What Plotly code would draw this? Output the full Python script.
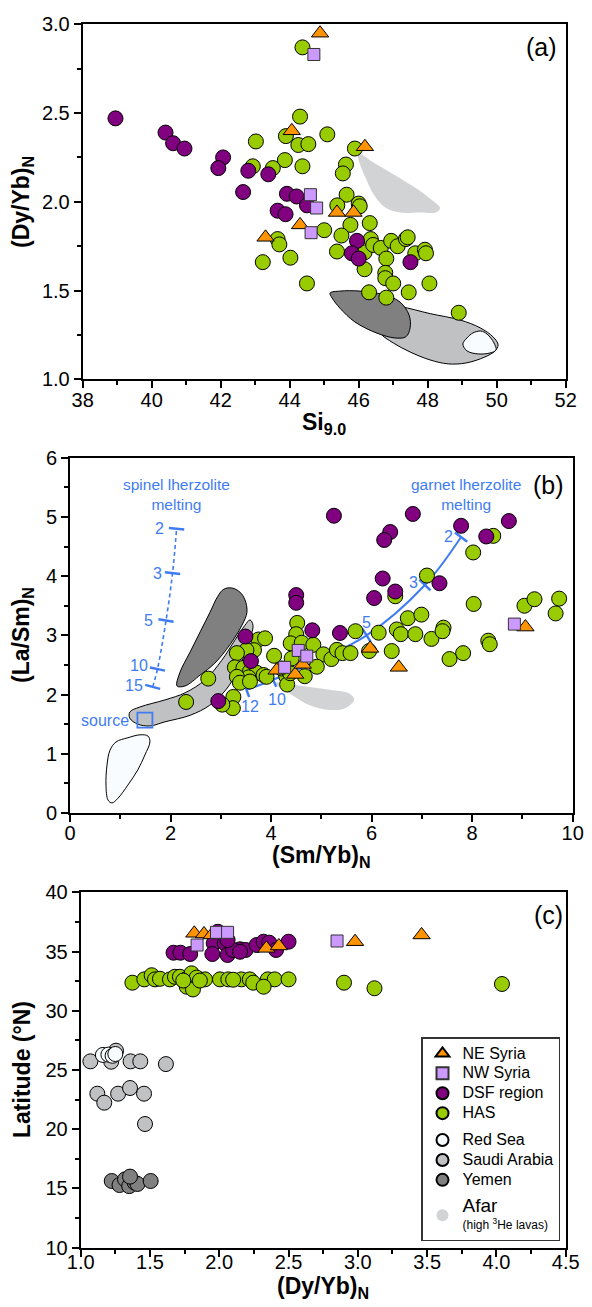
import plotly.graph_objects as go
import numpy as np

# ======================= DATA =======================
# ---- Panel (a): Si9.0 vs (Dy/Yb)N ----
A_NE_SI = [44.88, 44.06, 46.18, 44.30, 43.30, 45.37, 45.85]
A_NE_DY = [2.95, 2.40, 2.31, 1.87, 1.80, 1.94, 1.94]
A_NW_SI = [44.70, 44.60, 44.78, 44.62]
A_NW_DY = [2.83, 2.04, 1.965, 1.826]
A_DSF_SI = [38.95, 40.40, 40.62, 40.95, 42.07, 41.93, 42.80, 43.38, 42.65, 43.92,
            44.20, 44.50, 43.65, 43.88, 45.95, 45.80, 46.00, 47.50]
A_DSF_DY = [2.47, 2.39, 2.33, 2.30, 2.25, 2.19, 2.175, 2.155, 2.055, 2.045,
            2.03, 1.98, 1.95, 1.93, 1.78, 1.71, 1.68, 1.66]
A_HAS_SI = [44.37, 44.30, 43.89, 43.02, 44.25, 44.54, 45.09, 45.89, 45.63, 45.54,
            43.86, 42.93, 43.51, 44.37, 45.65, 45.38, 46.00, 46.03, 46.32, 45.76,
            45.00, 45.50, 43.65, 43.70, 44.02, 43.22, 45.37, 46.17, 46.35, 46.42,
            46.64, 46.94, 47.13, 47.37, 47.42, 47.64, 47.92, 47.95, 46.80, 46.17,
            46.77, 46.77, 47.00, 48.05, 44.50, 46.30, 46.80, 47.45, 48.90]
A_HAS_DY = [2.87, 2.48, 2.37, 2.34, 2.32, 2.325, 2.38, 2.30, 2.21, 2.16,
            2.235, 2.20, 2.19, 2.20, 2.04, 1.98, 1.99, 1.975, 1.88, 1.87,
            1.84, 1.81, 1.79, 1.76, 1.685, 1.66, 1.72, 1.715, 1.79, 1.757,
            1.74, 1.78, 1.75, 1.79, 1.80, 1.71, 1.73, 1.71, 1.68, 1.62,
            1.60, 1.57, 1.54, 1.54, 1.54, 1.49, 1.46, 1.49, 1.375]
# field outlines, panel (a)
A_AFAR_SI = [45.98, 46.39, 47.05, 47.63, 48.12, 48.36, 48.24, 47.78, 47.20, 46.76, 46.44, 46.21, 46.04]
A_AFAR_DY = [2.275, 2.225, 2.15, 2.08, 2.01, 1.965, 1.94, 1.94, 1.94, 1.97, 2.04, 2.13, 2.21]
A_SAUDI_SI = [46.62, 47.20, 48.07, 48.94, 49.52, 49.90, 50.04, 49.95, 49.66, 49.11, 48.59,
              48.07, 47.49, 47.00, 46.62, 46.48, 46.50]
A_SAUDI_DY = [1.42, 1.41, 1.37, 1.334, 1.29, 1.238, 1.194, 1.16, 1.126, 1.092, 1.087,
              1.109, 1.154, 1.205, 1.26, 1.323, 1.39]
A_YEMEN_SI = [45.17, 45.46, 46.04, 46.76, 47.20, 47.46, 47.49, 47.37, 47.05, 46.53, 45.89, 45.46, 45.23]
A_YEMEN_DY = [1.486, 1.497, 1.497, 1.475, 1.435, 1.362, 1.29, 1.24, 1.233, 1.26, 1.323, 1.40, 1.458]
A_REDSEA_SI = [49.02, 49.14, 49.31, 49.54, 49.72, 49.92, 49.98, 49.80, 49.46, 49.14]
A_REDSEA_DY = [1.199, 1.233, 1.261, 1.272, 1.255, 1.205, 1.165, 1.148, 1.143, 1.16]

# ---- Panel (b): (Sm/Yb)N vs (La/Sm)N ----
B_NE_SMYB = [4.11, 4.48, 4.63, 5.97, 6.54, 9.06]
B_NE_LASM = [2.41, 2.34, 2.51, 2.78, 2.46, 3.14]
B_NW_SMYB = [4.54, 4.71, 4.27, 8.84]
B_NW_LASM = [2.745, 2.65, 2.46, 3.19]
B_DSF_SMYB = [5.25, 6.82, 6.37, 6.25, 7.78, 8.73, 8.28, 6.22, 6.47, 6.05, 7.35, 5.37,
              4.50, 4.50, 4.82, 3.49, 3.60, 2.95]
B_DSF_LASM = [5.02, 5.05, 4.745, 4.61, 4.85, 4.93, 4.67, 3.96, 3.74, 3.63, 3.88, 3.04,
              3.68, 3.55, 3.085, 2.98, 2.565, 1.89]
B_HAS_SMYB = [8.42, 8.02, 7.10, 6.47, 8.03, 9.04, 9.24, 9.73, 9.66, 6.72, 6.99, 5.68,
              6.14, 6.50, 6.58, 6.87, 7.19, 7.43, 7.41, 8.32, 8.35, 7.82, 7.55,
              4.52, 4.50, 3.75, 3.88, 4.39, 4.61, 4.84, 3.66, 4.06, 4.41, 5.04, 5.20,
              5.31, 5.42, 5.58, 5.95, 6.40, 3.51, 3.32, 3.28, 3.45, 3.58, 3.71, 3.55,
              3.32, 3.38, 3.58, 3.85, 3.91, 4.30, 4.32, 4.67, 4.21, 4.91, 2.75, 3.25,
              3.24, 3.03, 2.31, 4.38]
B_HAS_LASM = [4.68, 4.40, 4.01, 3.66, 3.53, 3.50, 3.61, 3.62, 3.37, 3.29, 3.35, 3.07,
              3.045, 3.10, 3.02, 3.02, 2.94, 3.13, 3.07, 2.91, 2.85, 2.70, 2.60,
              3.21, 3.02, 2.93, 2.95, 2.865, 2.875, 2.84, 2.75, 2.655, 2.61, 2.68, 2.60,
              2.755, 2.70, 2.70, 2.735, 2.735, 2.75, 2.70, 2.46, 2.45, 2.39, 2.37, 2.29,
              2.30, 2.20, 2.22, 2.33, 2.30, 2.31, 2.17, 2.31, 2.44, 2.47, 2.27, 1.96,
              1.77, 1.83, 1.875, 2.36]
# field outlines, panel (b)
B_AFAR_SMYB = [4.10, 4.58, 5.17, 5.57, 5.65, 5.47, 5.17, 4.77, 4.42, 4.18]
B_AFAR_LASM = [2.20, 2.15, 2.08, 2.01, 1.91, 1.77, 1.74, 1.82, 1.99, 2.12]
B_SAUDI_SMYB = [1.19, 1.39, 1.89, 2.29, 2.69, 3.02, 3.28, 3.48, 3.58, 3.64, 3.54, 3.34,
                3.10, 2.78, 2.39, 1.89, 1.59, 1.35, 1.19]
B_SAUDI_LASM = [1.705, 1.79, 1.91, 2.03, 2.25, 2.58, 2.92, 3.17, 3.26, 3.17, 2.84, 2.41,
                2.08, 1.82, 1.65, 1.54, 1.47, 1.50, 1.60]
B_YEMEN_SMYB = [2.13, 2.19, 2.39, 2.59, 2.785, 2.94, 3.06, 3.22, 3.38, 3.48, 3.52, 3.42,
                3.18, 2.88, 2.59, 2.29]
B_YEMEN_LASM = [2.145, 2.38, 2.72, 3.06, 3.39, 3.66, 3.78, 3.80, 3.73, 3.60, 3.39, 3.17,
                2.84, 2.53, 2.33, 2.145]
B_REDSEA_SMYB = [1.55, 1.59, 1.49, 1.35, 1.15, 0.955, 0.835, 0.756, 0.716, 0.736, 0.796, 0.915, 1.15, 1.39]
B_REDSEA_LASM = [1.30, 1.20, 0.98, 0.73, 0.47, 0.25, 0.17, 0.22, 0.47, 0.81, 1.06, 1.20, 1.27, 1.32]
# melting models (percent melting labels)
SPINEL_F = ["15", "10", "5", "3", "2"]
SPINEL_SMYB = [1.645, 1.74, 1.91, 2.04, 2.12]
SPINEL_LASM = [2.13, 2.43, 3.25, 4.05, 4.80]
GARNET_F = ["12", "10", "5", "3", "2"]
GARNET_SMYB = [3.51, 4.04, 5.90, 7.06, 7.78]
GARNET_LASM = [2.08, 2.25, 3.00, 3.85, 4.66]
SOURCE_SMYB = [1.49]
SOURCE_LASM = [1.57]

# ---- Panel (c): (Dy/Yb)N vs latitude ----
C_NE_DY = [1.82, 1.89, 1.945, 2.34, 2.43, 2.98, 3.46]
C_NE_LAT = [36.54, 36.48, 36.40, 35.27, 35.47, 35.83, 36.40]
C_NW_DY = [1.84, 1.98, 2.06, 2.85]
C_NW_LAT = [35.55, 36.62, 36.62, 35.89]
C_DSF_DY = [1.67, 1.72, 1.79, 1.99, 1.96, 2.04, 1.95, 2.06, 2.15, 2.19, 2.27, 2.32,
            2.36, 2.41, 2.50, 2.10, 2.06, 2.15]
C_DSF_LAT = [34.90, 34.90, 34.79, 36.67, 35.70, 35.70, 34.79, 34.71, 35.19, 35.13, 35.55, 35.83,
             35.75, 35.13, 35.83, 35.13, 35.97, 34.98]
C_HAS_DY = [1.373, 1.459, 1.512, 1.536, 1.572, 1.644, 1.68, 1.716, 1.76, 1.80, 1.837, 1.897,
            2.005, 2.065, 2.16, 2.22, 2.245, 2.35, 2.40, 2.50, 1.765, 1.81, 2.32, 2.90,
            3.12, 4.04, 1.74, 1.86, 2.10]
C_HAS_LAT = [32.37, 32.65, 33.00, 32.65, 32.70, 32.65, 32.87, 32.87, 32.65, 33.16, 32.80, 32.65,
             32.65, 32.65, 32.65, 32.65, 32.37, 32.65, 32.65, 32.65, 32.03, 31.80, 32.03, 32.37,
             31.90, 32.26, 32.55, 32.55, 32.62]
C_SAUDI_DY = [1.255, 1.07, 1.22, 1.36, 1.43, 1.615, 1.12, 1.17, 1.27, 1.356, 1.457, 1.464]
C_SAUDI_LAT = [26.63, 25.73, 25.70, 25.73, 25.73, 25.50, 23.00, 22.24, 23.00, 23.48, 23.00, 20.44]
C_REDSEA_DY = [1.16, 1.20, 1.23, 1.25]
C_REDSEA_LAT = [26.27, 26.30, 26.20, 26.35]
C_YEMEN_DY = [1.224, 1.28, 1.32, 1.37, 1.35, 1.39, 1.41, 1.505, 1.356]
C_YEMEN_LAT = [15.63, 15.29, 15.77, 15.57, 15.20, 15.49, 15.38, 15.63, 16.00]

# ======================= STYLE / LAYOUT =======================
W, H = 592, 1307          # browser window
OFF = 8                   # default page margin around the plot div
FW, FH = W - OFF, H - OFF  # figure size
FONT = "Liberation Sans, Arial, sans-serif"
ORANGE = "#FF9300"
LAV = "#CC99FF"
PURPLE = "#800080"
GREEN = "#99CC00"
SAUDI = "#C0C1C3"
YEMEN = "#808080"
REDSEA = "#F8FCFE"
AFAR = "#D2D3D5"
BLUE = "#3F7CF2"

# panel boxes in window pixels (left, right, top, bottom)
BOX = {
    "a": (82.7, 565.7, 24.3, 379.3),
    "b": (70.0, 572.7, 457.7, 813.0),
    "c": (80.7, 565.7, 892.3, 1247.7),
}
RANGES = {
    "a": ([38, 52], [1, 3]),
    "b": ([0, 10], [0, 6]),
    "c": ([1, 4.5], [10, 40]),
}


def px2paper(px, py):
    return (px - OFF) / FW, 1 - (py - OFF) / FH


def dom(p):
    l, r, t, b = BOX[p]
    x0, y0 = px2paper(l, b)
    x1, y1 = px2paper(r, t)
    return [x0, x1], [y0, y1]


fig = go.Figure()

AX = {"a": ("x", "y"), "b": ("x2", "y2"), "c": ("x3", "y3")}


def lg(t):
    return "<span style='font-size:16px'>%s</span>" % t


def pts(p, x, y, name, symbol, color, size, lc="black", lw=1, legend=False, group=None, rank=None):
    xa, ya = AX[p]
    fig.add_trace(go.Scatter(
        x=x, y=y, mode="markers", name=lg(name) if legend else name, xaxis=xa, yaxis=ya,
        marker=dict(symbol=symbol, color=color, size=size, line=dict(color=lc, width=lw)),
        showlegend=legend, legendgroup=group, legendrank=rank, hoverinfo="skip"))


def field(p, x, y, fill, outline=True, name=None):
    xa, ya = AX[p]
    fig.add_trace(go.Scatter(
        x=list(x) + [x[0]], y=list(y) + [y[0]], mode="lines", fill="toself", fillcolor=fill,
        line=dict(color="black" if outline else fill, width=1 if outline else 0, shape="spline", smoothing=1.0),
        xaxis=xa, yaxis=ya, showlegend=False, hoverinfo="skip", name=name))


# ---- panel (a)
field("a", A_AFAR_SI, A_AFAR_DY, AFAR, outline=False)
field("a", A_SAUDI_SI, A_SAUDI_DY, SAUDI)
field("a", A_YEMEN_SI, A_YEMEN_DY, YEMEN)
field("a", A_REDSEA_SI, A_REDSEA_DY, REDSEA)
pts("a", A_HAS_SI, A_HAS_DY, "HAS", "circle", GREEN, 15)
pts("a", A_DSF_SI, A_DSF_DY, "DSF region", "circle", PURPLE, 15)
pts("a", A_NE_SI, A_NE_DY, "NE Syria", "triangle-up", ORANGE, 15)
pts("a", A_NW_SI, A_NW_DY, "NW Syria", "square", LAV, 12, lc="#333")

# ---- panel (b)
field("b", B_AFAR_SMYB, B_AFAR_LASM, AFAR, outline=False)
field("b", B_REDSEA_SMYB, B_REDSEA_LASM, REDSEA)
field("b", B_SAUDI_SMYB, B_SAUDI_LASM, SAUDI)
field("b", B_YEMEN_SMYB, B_YEMEN_LASM, YEMEN)

# melting curves
fig.add_trace(go.Scatter(x=SPINEL_SMYB, y=SPINEL_LASM, mode="lines", xaxis="x2", yaxis="y2",
                         line=dict(color=BLUE, width=1.6, dash="4px,3px", shape="spline"),
                         showlegend=False, hoverinfo="skip"))
fig.add_trace(go.Scatter(x=GARNET_SMYB, y=GARNET_LASM, mode="lines", xaxis="x2", yaxis="y2",
                         line=dict(color=BLUE, width=2, shape="spline"),
                         showlegend=False, hoverinfo="skip"))


def tick_angles(p, xs, ys):
    (x0, x1), (y0, y1) = RANGES[p]
    l, r, t, b = BOX[p]
    sx = (r - l) / (x1 - x0)
    sy = (b - t) / (y1 - y0)
    X = np.array(xs) * sx
    Y = np.array(ys) * sy
    dX = np.gradient(X)
    dY = np.gradient(Y)
    alpha = np.degrees(np.arctan2(dY, dX))
    return list(-alpha)


for xs, ys in ((SPINEL_SMYB, SPINEL_LASM), (GARNET_SMYB, GARNET_LASM)):
    fig.add_trace(go.Scatter(x=xs, y=ys, mode="markers", xaxis="x2", yaxis="y2",
                             marker=dict(symbol="line-ns", size=11, angle=tick_angles("b", xs, ys),
                                         line=dict(color=BLUE, width=2.5)),
                             showlegend=False, hoverinfo="skip"))
pts("b", SOURCE_SMYB, SOURCE_LASM, "source", "square-open", BLUE, 15, lc=BLUE, lw=1.8)

pts("b", B_HAS_SMYB, B_HAS_LASM, "HAS", "circle", GREEN, 15)
pts("b", B_DSF_SMYB, B_DSF_LASM, "DSF region", "circle", PURPLE, 15)
pts("b", B_NE_SMYB, B_NE_LASM, "NE Syria", "triangle-up", ORANGE, 15)
pts("b", B_NW_SMYB, B_NW_LASM, "NW Syria", "square", LAV, 12, lc="#333")

# ---- panel (c)
pts("c", C_SAUDI_DY, C_SAUDI_LAT, "Saudi Arabia", "circle", SAUDI, 15, legend=True, group="g2", rank=6)
pts("c", C_REDSEA_DY, C_REDSEA_LAT, "Red Sea", "circle", REDSEA, 15, legend=True, group="g2", rank=5)
pts("c", C_YEMEN_DY, C_YEMEN_LAT, "Yemen", "circle", YEMEN, 15, legend=True, group="g2", rank=7)
pts("c", C_HAS_DY, C_HAS_LAT, "HAS", "circle", GREEN, 15, legend=True, group="g1", rank=4)
pts("c", C_DSF_DY, C_DSF_LAT, "DSF region", "circle", PURPLE, 15, legend=True, group="g1", rank=3)
pts("c", C_NE_DY, C_NE_LAT, "NE Syria", "triangle-up", ORANGE, 15, legend=True, group="g1", rank=1)
pts("c", C_NW_DY, C_NW_LAT, "NW Syria", "square", LAV, 12, lc="#333", legend=True, group="g1", rank=2)
# legend-only entry for the Afar field
fig.add_trace(go.Scatter(x=[None], y=[None], mode="markers", xaxis="x3", yaxis="y3",
                         name="<span style='font-size:19px'>Afar</span><br><span style='font-size:12px'>(high <sup>3</sup>He lavas)</span>",
                         marker=dict(symbol="circle", color=AFAR, size=14, line=dict(width=0)),
                         showlegend=True, legendgroup="g3", legendrank=8))


def axis(p, dtick, minor, fmt=None, side="x", standoff=0):
    (xr, yr) = RANGES[p]
    xd, yd = dom(p)
    d = dict(
        range=xr if side == "x" else yr,
        domain=xd if side == "x" else yd,
        automargin=False,
        showline=True, linecolor="black", linewidth=2, mirror=True,
        ticks="outside", ticklen=7, tickwidth=2, tickcolor="black",
        dtick=dtick, tick0=0, showgrid=False, zeroline=False,
        tickfont=dict(family=FONT, size=20, color="black"),
        minor=dict(dtick=minor, ticks="outside", ticklen=4, tickwidth=1.5, tickcolor="black", showgrid=False),
        fixedrange=True,
    )
    if standoff:
        d["ticklabelstandoff"] = standoff
    if fmt:
        d["tickformat"] = fmt
    return d


xa = axis("a", 2, 1, side="x", standoff=-5); xa["anchor"] = "y"
ya = axis("a", 0.5, 0.25, ".1f", side="y"); ya["anchor"] = "x"
xb = axis("b", 2, 1, side="x", standoff=-6); xb["anchor"] = "y2"
yb = axis("b", 1, 0.5, side="y"); yb["anchor"] = "x2"
xc = axis("c", 0.5, 0.25, ".1f", side="x", standoff=-12); xc["anchor"] = "y3"
yc = axis("c", 5, 2.5, side="y"); yc["anchor"] = "x3"

ann = []


def pann(px, py, text, size, angle=0, color="black", **kw):
    x, y = px2paper(px, py)
    d = dict(x=x, y=y, xref="paper", yref="paper", text=text, showarrow=False,
             textangle=angle, font=dict(family=FONT, size=size, color=color), xanchor="center", yanchor="middle")
    d.update(kw)
    ann.append(d)


# axis titles
pann(22, 202, "<b>(Dy/Yb)<sub>N</sub></b>", 23, angle=-90)
pann(324, 423, "<b>Si<sub>9.0</sub></b>", 23)
pann(22, 635, "<b>(La/Sm)<sub>N</sub></b>", 23, angle=-90)
pann(321, 856, "<b>(Sm/Yb)<sub>N</sub></b>", 23)
pann(22, 1070, "<b>Latitude (°N)</b>", 23, angle=-90)
pann(323, 1287, "<b>(Dy/Yb)<sub>N</sub></b>", 23)
# panel letters
pann(541, 47, "(a)", 25)
pann(548, 485, "(b)", 25)
pann(548, 915, "(c)", 25)
# model titles
pann(176, 494, "spinel lherzolite<br>melting", 15.5, color=BLUE)
pann(466, 494, "garnet lherzolite<br>melting", 15.5, color=BLUE)

# percent-melt labels attached to model nodes
sp_shift = [(-19, 1), (-18, 4), (-18, 0), (-15, 0), (-17, 0)]
for lab, x, y, (dx, dy) in zip(SPINEL_F, SPINEL_SMYB, SPINEL_LASM, sp_shift):
    ann.append(dict(x=x, y=y, xref="x2", yref="y2", text=lab, showarrow=False, xshift=dx, yshift=dy,
                    font=dict(family=FONT, size=16, color=BLUE)))
ga_shift = [(4, -17), (4, -20), (0, 13), (-11, 3), (-13, 1)]
for lab, x, y, (dx, dy) in zip(GARNET_F, GARNET_SMYB, GARNET_LASM, ga_shift):
    ann.append(dict(x=x, y=y, xref="x2", yref="y2", text=lab, showarrow=False, xshift=dx, yshift=dy,
                    font=dict(family=FONT, size=16, color=BLUE)))
ann.append(dict(x=SOURCE_SMYB[0], y=SOURCE_LASM[0], xref="x2", yref="y2", text="source", showarrow=False,
                xshift=-40, yshift=0, font=dict(family=FONT, size=16, color=BLUE)))

lgx, lgy = px2paper(421, 1037)
fig.update_layout(
    template="none",
    width=FW, height=FH, autosize=False,
    margin=dict(l=0, r=0, t=0, b=0, pad=0),
    paper_bgcolor="white", plot_bgcolor="white",
    font=dict(family=FONT, color="black"),
    xaxis=xa, yaxis=ya, xaxis2=xb, yaxis2=yb, xaxis3=xc, yaxis3=yc,
    annotations=ann,
    legend=dict(x=lgx, y=lgy, xanchor="left", yanchor="top", xref="paper", yref="paper",
                bgcolor="white", bordercolor="#333", borderwidth=1.5,
                font=dict(family=FONT, size=13, color="black"),
                traceorder="grouped", tracegroupgap=7, itemsizing="constant",
                itemclick=False, itemdoubleclick=False),
    showlegend=True,
)

fig.write_html("out.html")
